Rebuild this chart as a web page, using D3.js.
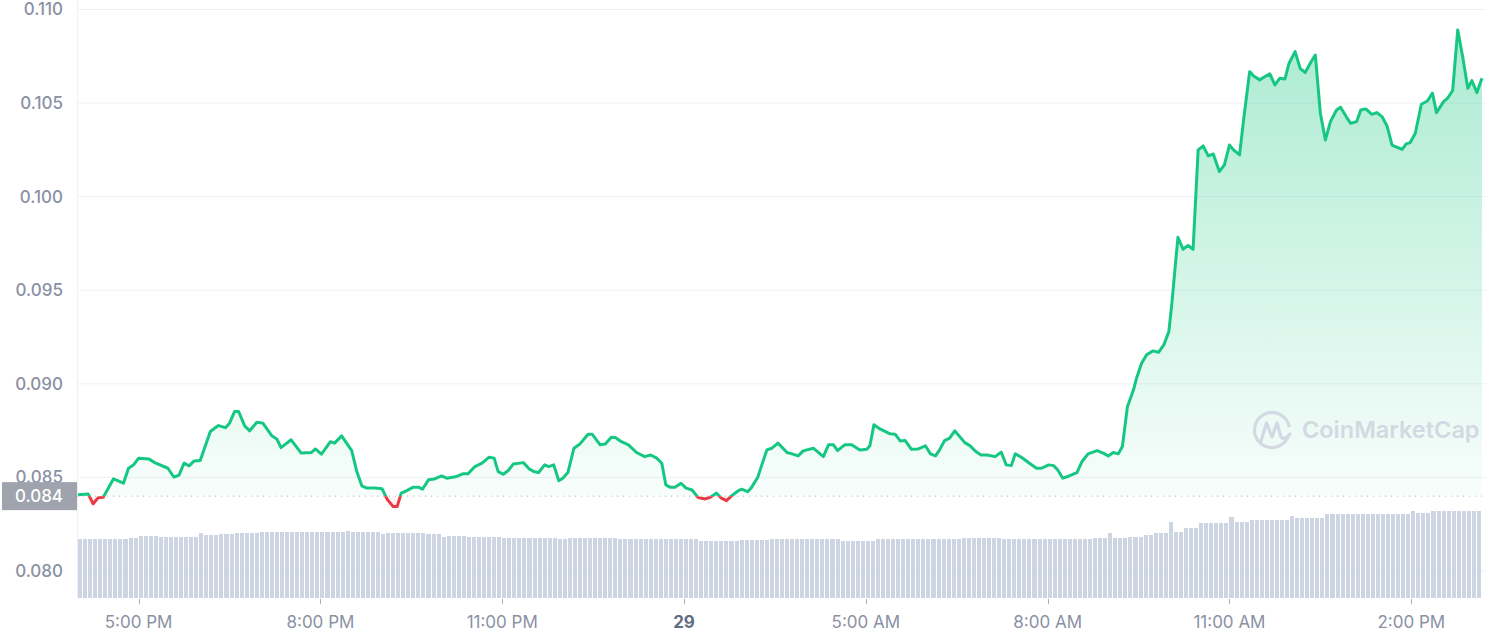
<!DOCTYPE html>
<html>
<head>
<meta charset="utf-8">
<script src="https://cdn.jsdelivr.net/npm/d3@7"></script>
<style>
  html, body { margin: 0; padding: 0; background: #ffffff; }
  svg { display: block; font-family: Inter, "Noto Sans", sans-serif; }
</style>
</head>
<body>
<div id="chart"></div>
<script>
// ---------- data (minutes after 4:00 PM, price in USD) ----------
const priceMinutes = [
  0,10,15,20,25,35,45,50,55,60,70,76,89,95,100,105,110,115,121,131,139,146,150,155,159,165,170,177,183,192,
  197,201,211,221,231,235,241,250,254,261,271,276,281,286,294,301,306,312,316,320,325,332,337,341,347,353,360,365,375,381,
  386,393,400,407,412,416,421,426,431,441,447,452,456,462,466,471,476,480,485,491,497,505,509,517,522,528,532,538,545,553,
  561,567,573,578,582,586,591,597,602,608,614,621,626,632,637,642,647,654,657,663,667,673,677,682,687,693,702,707,713,718,
  728,738,743,748,752,759,766,774,781,784,788,794,804,809,814,819,825,832,839,844,849,853,858,863,868,878,883,889,894,900,
  908,914,919,924,928,934,943,949,954,961,966,970,975,980,989,994,1000,1009,1015,1020,1025,1030,1034,1039,1045,1048,1053,1058,1064,1070,
  1075,1080,1083,1086,1089,1094,1099,1104,1109,1114,1119,1124,1130,1135,1140,1144,1150,1154,1160,1164,1170,1174,1180,1185,1190,1195,1199,1205,1210,1215,
  1220,1225,1230,1235,1240,1246,1250,1256,1260,1266,1270,1275,1281,1286,1291,1296,1301,1306,1311,1315,1319,1324,1330,1336,1341,1345,1352,1356,1361,1366,
  1371,1376,1380,1385,1390
];
const priceValues = [
  0.08407,0.08412,0.08359,0.08392,0.08394,0.08492,0.08469,0.08549,0.08567,0.08603,0.08599,0.08579,0.08549,0.08501,0.08512,0.08576,0.08562,0.08588,0.08590,0.08745,0.08777,0.08766,0.08790,0.08852,0.08852,0.08775,0.08749,0.08795,0.08790,0.08722,
  0.08704,0.08659,0.08701,0.08630,0.08633,0.08652,0.08624,0.08691,0.08683,0.08722,0.08643,0.08531,0.08455,0.08443,0.08443,0.08440,0.08384,0.08344,0.08344,0.08416,0.08428,0.08448,0.08448,0.08437,0.08487,0.08492,0.08508,0.08496,0.08505,0.08519,
  0.08519,0.08558,0.08576,0.08608,0.08603,0.08531,0.08517,0.08537,0.08572,0.08579,0.08544,0.08530,0.08526,0.08567,0.08558,0.08567,0.08482,0.08496,0.08526,0.08656,0.08679,0.08731,0.08731,0.08674,0.08678,0.08715,0.08713,0.08691,0.08674,0.08633,
  0.08611,0.08620,0.08603,0.08576,0.08460,0.08448,0.08448,0.08469,0.08443,0.08433,0.08392,0.08385,0.08394,0.08416,0.08389,0.08376,0.08401,0.08430,0.08437,0.08424,0.08448,0.08501,0.08567,0.08647,0.08656,0.08683,0.08633,0.08626,0.08615,0.08642,
  0.08656,0.08611,0.08674,0.08674,0.08643,0.08674,0.08674,0.08647,0.08651,0.08669,0.08781,0.08759,0.08733,0.08731,0.08695,0.08697,0.08651,0.08652,0.08669,0.08626,0.08615,0.08647,0.08697,0.08710,0.08749,0.08686,0.08670,0.08638,0.08620,0.08620,
  0.08611,0.08635,0.08567,0.08563,0.08626,0.08608,0.08572,0.08549,0.08549,0.08567,0.08563,0.08540,0.08496,0.08505,0.08526,0.08585,0.08626,0.08643,0.08630,0.08615,0.08633,0.08626,0.08665,0.08878,0.08968,0.09030,0.09110,0.09155,0.09176,0.09169,
  0.09208,0.09279,0.09431,0.09609,0.09783,0.09719,0.09739,0.09719,0.10250,0.10271,0.10218,0.10228,0.10134,0.10170,0.10276,0.10250,0.10223,0.10410,0.10668,0.10645,0.10624,0.10638,0.10656,0.10597,0.10633,0.10629,0.10713,0.10775,0.10686,0.10663,
  0.10713,0.10757,0.10446,0.10303,0.10401,0.10463,0.10478,0.10424,0.10392,0.10401,0.10463,0.10469,0.10440,0.10449,0.10428,0.10378,0.10276,0.10264,0.10253,0.10282,0.10289,0.10339,0.10494,0.10511,0.10553,0.10449,0.10508,0.10526,0.10567,0.10891,
  0.10745,0.10579,0.10620,0.10556,0.10633
];
// volume per 5-minute bar (millions, relative)
const volumeValues = [
  5.9,5.9,5.9,5.9,5.9,5.9,5.9,5.9,5.9,5.9, 6.0,6.0, 6.2,6.2,6.2,6.2, 6.1,6.1,6.1,6.1,6.1,6.1,6.1,6.1,
  6.5, 6.3,6.3,6.3, 6.4,6.4,6.4, 6.5,6.5,6.5,6.5,6.5,
  6.6,6.6,6.6,6.6,6.6,6.6,6.6,6.6,6.6,6.6,6.6,6.6,6.6,6.6,6.6,6.6, 6.6,6.7,6.6, 6.6,6.6,6.6,6.6,6.6,
  6.4, 6.5,6.5,6.5,6.5,6.5,6.5,6.5,6.5, 6.4,6.4,6.4, 6.1, 6.2,6.2,6.2,6.2,
  6.1,6.1,6.1,6.1,6.1,6.1,6.1, 6.0,6.0,6.0,6.0,6.0,6.0,6.0,6.0,6.0,6.0,6.0, 5.9,5.9,
  6.0,6.0,6.0,6.0,6.0,6.0,6.0,6.0,6.0,6.0,
  5.9,5.9,5.9,5.9,5.9,5.9,5.9,5.9,5.9,5.9,5.9,5.9,5.9,5.9,5.9,5.9,
  5.7,5.7,5.7,5.7,5.7,5.7,5.7,5.7, 5.8,5.8,5.8,5.8,5.8,5.8,
  5.9,5.9,5.9,5.9,5.9,5.9,5.9,5.9,5.9,5.9,5.9,5.9,5.9,5.9,
  5.7,5.7,5.7,5.7,5.7,5.7,5.7,
  5.9,5.9,5.9,5.9,5.9,5.9,5.9,5.9,5.9,5.9,5.9,5.9,5.9,5.9,5.9,5.9,5.9,
  6.0,6.0,6.0,6.0,6.0,6.0,6.0,6.0,
  5.9,5.9,5.9,5.9,5.9,5.9,5.9,5.9,5.9,5.9,5.9,5.9,5.9,5.9,5.9,5.9,5.9,5.9,
  6.0,6.0,6.0, 6.5, 6.0,6.0,6.0, 6.1,6.1,6.1, 6.3,6.3, 6.5,6.5,6.5, 7.6, 6.6,6.6, 7.0,7.0,7.0,
  7.5,7.5,7.5,7.5,7.5,7.5, 8.1, 7.6,7.6,7.6, 7.8,7.8,7.8,7.8,7.8,7.8,7.8,7.8, 8.2, 8.0,8.0,8.0,8.0,8.0,8.0,
  8.4,8.4,8.4,8.4,8.4,8.4,8.4,8.4,8.4,8.4,8.4,8.4,8.4,8.4,8.4,8.4,8.4, 8.7, 8.5,8.5,8.5,
  8.7,8.7,8.7,8.7,8.7,8.7,8.7,8.7,8.7,8.7
];
const barMinutes = volumeValues.map((v, i) => i * 5);
const yTickValues = [0.080, 0.085, 0.090, 0.095, 0.100, 0.105, 0.110];
const xTickMinutes = [60, 240, 420, 600, 780, 960, 1140, 1320];
const xTickLabels = ["5:00 PM", "8:00 PM", "11:00 PM", "29", "5:00 AM", "8:00 AM", "11:00 AM", "2:00 PM"];
const baselinePrice = 0.084;

// ---------- layout ----------
const W = 1486, H = 640;
const plotLeft = 77, plotRight = 1486, plotBottom = 598;
const GREEN = "#16c784", RED = "#ea3943";

const svg = d3.select("#chart").append("svg").attr("width", W).attr("height", H);

const x = d3.scaleLinear().domain([-1, 1394]).range([plotLeft, plotRight]);
const y = d3.scaleLinear().domain([0.080, 0.110]).range([571, 9.5]);
const yVol = d3.scaleLinear().domain([0, 10]).range([plotBottom, 498]);

const data = priceMinutes.map((m, i) => ({ m, p: priceValues[i] }));
const yBase = y(baselinePrice);

// defs
const defs = svg.append("defs");
defs.append("clipPath").attr("id", "clipAbove").append("rect")
  .attr("x", plotLeft).attr("y", 0).attr("width", plotRight - plotLeft).attr("height", yBase);
defs.append("clipPath").attr("id", "clipBelow").append("rect")
  .attr("x", plotLeft).attr("y", yBase).attr("width", plotRight - plotLeft).attr("height", H - yBase);
const gG = defs.append("linearGradient").attr("id", "gradGreen")
  .attr("gradientUnits", "userSpaceOnUse").attr("x1", 0).attr("x2", 0)
  .attr("y1", y(d3.max(priceValues))).attr("y2", yBase);
gG.append("stop").attr("offset", 0).attr("stop-color", GREEN).attr("stop-opacity", 0.36);
gG.append("stop").attr("offset", 1).attr("stop-color", GREEN).attr("stop-opacity", 0.03);
const gR = defs.append("linearGradient").attr("id", "gradRed")
  .attr("gradientUnits", "userSpaceOnUse").attr("x1", 0).attr("x2", 0)
  .attr("y1", yBase).attr("y2", y(d3.min(priceValues)));
gR.append("stop").attr("offset", 0).attr("stop-color", RED).attr("stop-opacity", 0.03);
gR.append("stop").attr("offset", 1).attr("stop-color", RED).attr("stop-opacity", 0.12);

// gridlines
svg.append("g").selectAll("line").data(yTickValues).join("line")
  .attr("x1", plotLeft).attr("x2", plotRight)
  .attr("y1", d => y(d)).attr("y2", d => y(d))
  .attr("stroke", "#eff1f5").attr("stroke-width", 1);
svg.append("line").attr("x1", plotLeft + 0.5).attr("x2", plotLeft + 0.5)
  .attr("y1", 0).attr("y2", plotBottom).attr("stroke", "#eff1f5");

// volume bars
svg.append("g").selectAll("rect").data(volumeValues).join("rect")
  .attr("x", (d, i) => Math.round(x(barMinutes[i])))
  .attr("width", (d, i) => Math.round(x(barMinutes[i] + 5)) - Math.round(x(barMinutes[i])) - 1)
  .attr("y", d => yVol(d))
  .attr("height", d => plotBottom - yVol(d))
  .attr("fill", "#cdd4e2");

// area fill
const area = d3.area().x(d => x(d.m)).y0(yBase).y1(d => y(d.p));
svg.append("path").datum(data).attr("d", area).attr("fill", "url(#gradGreen)").attr("clip-path", "url(#clipAbove)");
svg.append("path").datum(data).attr("d", area).attr("fill", "url(#gradRed)").attr("clip-path", "url(#clipBelow)");

// watermark
const wm = svg.append("g").attr("fill", "none").attr("stroke", "#d3d8e3");
wm.append("path")
  .attr("d", d3.arc()({ innerRadius: 17.5, outerRadius: 17.5, startAngle: Math.PI * 0.62, endAngle: Math.PI * 2.45 }))
  .attr("transform", "translate(1272,430)").attr("stroke-width", 3.2);
wm.append("path")
  .attr("d", "M1261,441 L1266.5,423 L1272,437 L1277,423 L1281,437 Q1284,441 1290,434")
  .attr("stroke-width", 3.2).attr("stroke-linejoin", "round").attr("stroke-linecap", "round");
svg.append("text").attr("x", 1302).attr("y", 438)
  .attr("font-size", 23.5).attr("font-weight", 600).attr("fill", "#d3d8e3")
  .text("CoinMarketCap");

// baseline dotted line
svg.append("line").attr("x1", plotLeft).attr("x2", plotRight)
  .attr("y1", yBase).attr("y2", yBase)
  .attr("stroke", "#a8b1c1").attr("stroke-width", 1).attr("stroke-dasharray", "1,5");

// price line
const line = d3.line().x(d => x(d.m)).y(d => y(d.p));
svg.append("path").datum(data).attr("d", line).attr("fill", "none")
  .attr("stroke", GREEN).attr("stroke-width", 3).attr("stroke-linejoin", "round")
  .attr("clip-path", "url(#clipAbove)");
svg.append("path").datum(data).attr("d", line).attr("fill", "none")
  .attr("stroke", RED).attr("stroke-width", 3).attr("stroke-linejoin", "round")
  .attr("clip-path", "url(#clipBelow)");

// y axis labels
svg.append("g").selectAll("text").data(yTickValues).join("text")
  .attr("x", 63).attr("y", d => y(d)).attr("dy", "0.35em")
  .attr("text-anchor", "end").attr("font-size", 17).attr("font-weight", 500).attr("fill", "#8a91a3")
  .text(d => d3.format(".3f")(d));

// baseline label
svg.append("rect").attr("x", 2).attr("y", yBase - 14).attr("width", 75).attr("height", 28)
  .attr("fill", "#9ea3ae");
svg.append("text").attr("x", 63).attr("y", yBase).attr("dy", "0.35em")
  .attr("text-anchor", "end").attr("font-size", 17).attr("font-weight", 500).attr("fill", "#ffffff")
  .text(d3.format(".3f")(baselinePrice));

// x axis
const xg = svg.append("g");
xg.selectAll("line").data(xTickMinutes).join("line")
  .attr("x1", d => Math.round(x(d)) + 0.5).attr("x2", d => Math.round(x(d)) + 0.5)
  .attr("y1", plotBottom + 1).attr("y2", plotBottom + 6)
  .attr("stroke", "#a6adbb");
xg.selectAll("text").data(xTickMinutes).join("text")
  .attr("x", d => x(d)).attr("y", 628)
  .attr("text-anchor", "middle").attr("font-size", 17)
  .attr("font-weight", (d, i) => xTickLabels[i] === "29" ? 700 : 400)
  .attr("fill", (d, i) => xTickLabels[i] === "29" ? "#616d83" : "#8a91a3")
  .text((d, i) => xTickLabels[i]);
</script>
</body>
</html>
